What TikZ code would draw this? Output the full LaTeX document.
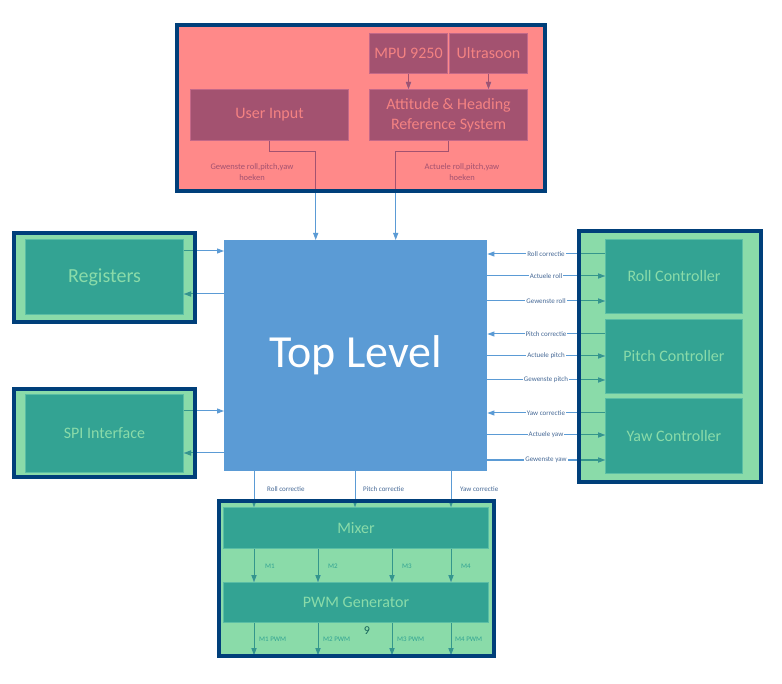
\documentclass[tikz,border=0pt]{standalone}
\usepackage{fontspec}
\setmainfont{Carlito}
\usetikzlibrary{arrows.meta}
\definecolor{dkblue}{RGB}{0,63,122}
\definecolor{redfill}{RGB}{255,137,137}
\definecolor{maroonf}{RGB}{163,82,112}
\definecolor{maroonb}{RGB}{196,104,136}
\definecolor{salmon}{RGB}{244,130,130}
\definecolor{tlblue}{RGB}{91,155,213}
\definecolor{ltgreen}{RGB}{138,219,169}
\definecolor{tealf}{RGB}{51,163,147}
\definecolor{tealb}{RGB}{90,190,165}
\definecolor{tealline}{RGB}{52,150,140}
\definecolor{lblblue}{RGB}{70,105,150}
\definecolor{nine}{RGB}{20,100,90}
\newcommand\fs[1]{\fontsize{#1}{#1}\selectfont}
\tikzset{
  cont/.style={draw=none, anchor=north west, inner sep=0pt},
  redbox/.style={draw=maroonb, line width=1pt, fill=maroonf, text=salmon, font=\fontsize{16}{20}\selectfont, anchor=north west, inner sep=0pt, align=center},
  tbox/.style={draw=tealb, line width=1pt, fill=tealf, text=ltgreen, font=\fs{16}, anchor=north west, inner sep=0pt},
  conn/.style={line width=1pt, -{Triangle[length=7pt,width=5pt]}},
  rlbl/.style={font=\fs{7}, text=lblblue, fill=white, inner sep=1pt},
  blbl/.style={font=\fs{7}, text=lblblue, anchor=west, inner sep=0pt},
  glbl/.style={font=\fs{7}, text=tealf, anchor=west, inner sep=0pt},
  tlbl/.style={font=\fontsize{8.5}{11}\selectfont, text=maroonf, align=center, inner sep=0pt},
  border/.style={draw=dkblue, line width=4pt}
}
\newcommand\allconns[1]{%
  \draw[conn,#1] (mpu.south) -- (mpu.south |- ahrs.north);
  \draw[conn,#1] (ultra.south) -- (ultra.south |- ahrs.north);
  \draw[conn,#1] (ui.south) -- ++(0,11) -| ([xshift=-40pt]toplevel.north);
  \draw[conn,#1] (ahrs.south) -- ++(0,11) -| ([xshift=40pt]toplevel.north);
  \draw[conn,#1] (reg.east |- 0,251) -- (toplevel.west |- 0,251);
  \draw[conn,#1] (toplevel.west |- 0,294) -- (reg.east |- 0,294);
  \draw[conn,#1] (spi.east |- 0,411) -- (toplevel.west |- 0,411);
  \draw[conn,#1] (toplevel.west |- 0,453) -- (spi.east |- 0,453);
  \draw[conn,#1] (roll.west |- 0,254) -- (toplevel.east |- 0,254);
  \draw[conn,#1] (toplevel.east |- 0,276) -- (roll.west |- 0,276);
  \draw[conn,#1] (toplevel.east |- 0,301) -- (roll.west |- 0,301);
  \draw[conn,#1] (pitch.west |- 0,334) -- (toplevel.east |- 0,334);
  \draw[conn,#1] (toplevel.east |- 0,356) -- (pitch.west |- 0,356);
  \draw[conn,#1] (toplevel.east |- 0,380) -- (pitch.west |- 0,380);
  \draw[conn,#1] (yaw.west |- 0,413) -- (toplevel.east |- 0,413);
  \draw[conn,#1] (toplevel.east |- 0,435) -- (yaw.west |- 0,435);
  \draw[conn,#1] (toplevel.east |- 0,460) -- (yaw.west |- 0,460);
  \draw[conn,#1] (toplevel.south -| 254,0) -- (mixer.north -| 254,0);
  \draw[conn,#1] (toplevel.south -| 355,0) -- (mixer.north -| 355,0);
  \draw[conn,#1] (toplevel.south -| 451,0) -- (mixer.north -| 451,0);
  \foreach \xx in {254,318,392,451} {
    \draw[conn,#1] (mixer.south -| \xx,0) -- (pwm.north -| \xx,0);
    \draw[conn,#1] (pwm.south -| \xx,0) -- (\xx,655);
  }
}
\begin{document}
\begin{tikzpicture}[x=1pt,y=-1pt]
\useasboundingbox[fill=white] (0,0) rectangle (782,684);
% containers
\node[cont, fill=redfill, minimum width=368pt, minimum height=166pt] (sensors) at (177,25) {};
\node[cont, fill=ltgreen, minimum width=181pt, minimum height=89pt] (regout) at (14,233) {};
\node[cont, fill=ltgreen, minimum width=181pt, minimum height=88pt] (spiout) at (14,389) {};
\node[cont, fill=ltgreen, minimum width=182pt, minimum height=251pt] (ctrlout) at (579,231) {};
\node[cont, fill=ltgreen, minimum width=275pt, minimum height=155pt] (motout) at (219,501) {};
% boxes
\node[redbox, minimum width=78pt, minimum height=40pt] (mpu) at (369,33) {MPU 9250};
\node[redbox, minimum width=78pt, minimum height=40pt] (ultra) at (449,33) {Ultrasoon};
\node[redbox, minimum width=158pt, minimum height=51pt] (ahrs) at (369,89) {Attitude \& Heading\\Reference System};
\node[redbox, minimum width=158pt, minimum height=51pt] (ui) at (190,89) {User Input};
\node[draw=none, fill=tlblue, text=white, font=\fs{46}, anchor=north west, inner sep=0pt, minimum width=263pt, minimum height=231pt] (toplevel) at (224,240) {Top Level};
\node[tbox, font=\fs{20}, minimum width=158pt, minimum height=75pt] (reg) at (25,239) {Registers};
\node[tbox, minimum width=158pt, minimum height=78pt] (spi) at (25,394) {SPI Interface};
\node[tbox, minimum width=137pt, minimum height=74pt] (roll) at (605,239) {Roll Controller};
\node[tbox, minimum width=137pt, minimum height=74pt] (pitch) at (605,319) {Pitch Controller};
\node[tbox, minimum width=137pt, minimum height=75pt] (yaw) at (605,398) {Yaw Controller};
\node[tbox, minimum width=265pt, minimum height=41pt] (mixer) at (223,507) {Mixer};
\node[tbox, minimum width=265pt, minimum height=40pt] (pwm) at (223,582) {PWM Generator};
% connectors
\allconns{draw=tlblue}
\begin{scope}
  \clip (sensors.north west) rectangle (sensors.south east);
  \allconns{draw=maroonf}
\end{scope}
\begin{scope}
  \clip (regout.north west) rectangle (regout.south east)
        (spiout.north west) rectangle (spiout.south east)
        (ctrlout.north west) rectangle (ctrlout.south east)
        (motout.north west) rectangle (motout.south east);
  \allconns{draw=tealline}
\end{scope}
% borders on top
\draw[border] (sensors.north west) rectangle (sensors.south east);
\draw[border] (regout.north west) rectangle (regout.south east);
\draw[border] (spiout.north west) rectangle (spiout.south east);
\draw[border] (ctrlout.north west) rectangle (ctrlout.south east);
\draw[border] (motout.north west) rectangle (motout.south east);
% labels
\node[tlbl] (lg) at (252,172) {Gewenste roll,pitch,yaw\\hoeken};
\node[tlbl] (la) at (462,172) {Actuele roll,pitch,yaw\\hoeken};
\node[rlbl] (l1) at (546,254) {Roll correctie};
\node[rlbl] (l2) at (546,276) {Actuele roll};
\node[rlbl] (l3) at (546,301) {Gewenste roll};
\node[rlbl] (l4) at (546,334) {Pitch correctie};
\node[rlbl] (l5) at (546,356) {Actuele pitch};
\node[rlbl] (l6) at (546,380) {Gewenste pitch};
\node[rlbl] (l7) at (546,413) {Yaw correctie};
\node[rlbl] (l8) at (546,435) {Actuele yaw};
\node[rlbl] (l9) at (546,460) {Gewenste yaw};
\node[blbl] (b1) at (267,489) {Roll correctie};
\node[blbl] (b2) at (363,489) {Pitch correctie};
\node[blbl] (b3) at (460,489) {Yaw correctie};
\node[glbl] (m1) at (265,566) {M1};
\node[glbl] (m2) at (328,566) {M2};
\node[glbl] (m3) at (402,566) {M3};
\node[glbl] (m4) at (461,566) {M4};
\node[glbl] (p1) at (259,639) {M1 PWM};
\node[glbl] (p2) at (323,639) {M2 PWM};
\node[glbl] (p3) at (397,639) {M3 PWM};
\node[glbl] (p4) at (455,639) {M4 PWM};
\node[font=\fs{12}, text=nine, inner sep=0pt] (nn) at (367,631) {9};
\end{tikzpicture}
\end{document}
